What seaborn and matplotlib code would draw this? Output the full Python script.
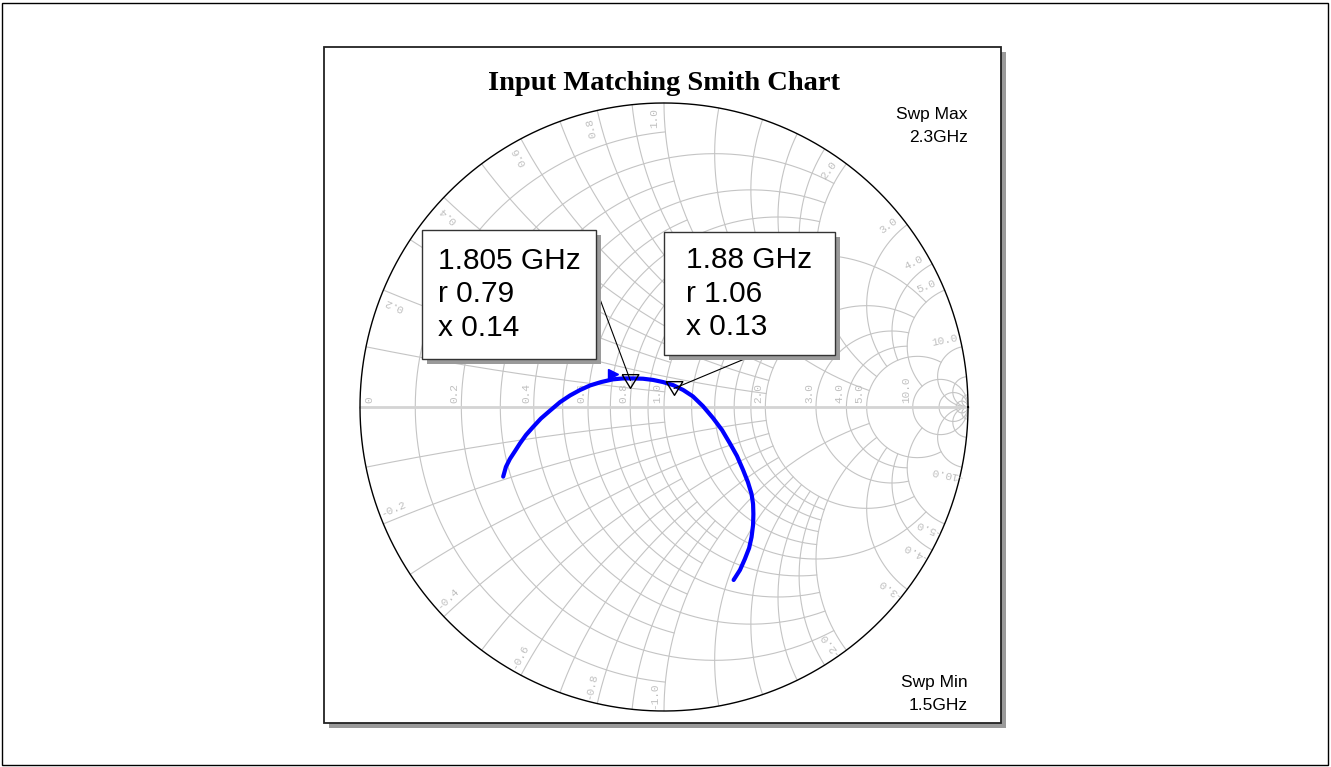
import numpy as np
import pandas as pd
import seaborn as sns
import matplotlib
matplotlib.use("Agg")
import matplotlib.pyplot as plt
from matplotlib.patches import Rectangle

# Trace (reflection coefficient, from the lower-left start point)
gamma_re = [-0.529, -0.520, -0.507, -0.490, -0.474, -0.454, -0.431, -0.405, -0.375, -0.342,
            -0.309, -0.276, -0.243, -0.207, -0.168, -0.135, -0.102, -0.069, -0.036, -0.003,
            0.030, 0.063, 0.095, 0.128, 0.161, 0.191, 0.217, 0.240, 0.260, 0.276,
            0.288, 0.293, 0.294, 0.293, 0.288, 0.280, 0.266, 0.250, 0.229]
gamma_im = [-0.229, -0.197, -0.171, -0.145, -0.120, -0.092, -0.066, -0.038, -0.012, 0.016,
            0.038, 0.056, 0.071, 0.082, 0.091, 0.094, 0.094, 0.093, 0.089, 0.082,
            0.072, 0.056, 0.035, 0.003, -0.036, -0.076, -0.120, -0.161, -0.207, -0.247,
            -0.286, -0.319, -0.352, -0.388, -0.428, -0.464, -0.500, -0.536, -0.569]

# Markers (normalised impedance)
marker_freq = ["1.805 GHz", "1.88 GHz"]
marker_r = [0.79, 1.06]
marker_x = [0.14, 0.13]

chart_title = "Input Matching Smith Chart"
swp_max = "2.3GHz"
swp_min = "1.5GHz"

# Smith grid: (values, limit of the other coordinate)
grid_r = [([0.1, 0.3, 0.5, 0.7, 0.9], 1.0),
          ([0.2, 0.4, 0.6, 0.8, 1.2, 1.4, 1.6, 1.8], 2.0),
          ([1.0, 2.0, 3.0, 4.0], 5.0),
          ([5.0], 10.0),
          ([10.0, 20.0, 50.0], np.inf)]
grid_x = [([0.1, 0.3, 0.5, 0.7, 0.9], 1.0),
          ([0.2, 0.4, 0.6, 0.8, 1.2, 1.4, 1.6, 1.8], 2.0),
          ([1.0, 2.0, 3.0, 4.0], 5.0),
          ([5.0], 10.0),
          ([10.0, 20.0, 50.0], np.inf)]
r_labels = [0, 0.2, 0.4, 0.6, 0.8, 1.0, 2.0, 3.0, 4.0, 5.0, 10.0]
x_labels = [0.2, 0.4, 0.6, 0.8, 1.0, 2.0, 3.0, 4.0, 5.0, 10.0]

sns.set_style("white")
plt.rcParams["font.family"] = ["Liberation Sans", "DejaVu Sans"]
plt.rcParams["text.color"] = "black"

W, H = 1331, 767
CX, CY, RAD = 664, 407, 304
fig = plt.figure(figsize=(W / 100, H / 100), dpi=100)
ax = fig.add_axes([0, 0, 1, 1])
ax.set_xlim(-CX / RAD, (W - CX) / RAD)
ax.set_ylim((CY - H) / RAD, CY / RAD)
ax.axis("off")


def px(x, y):
    return (x - CX) / RAD, (CY - y) / RAD


def z2g(z):
    return (z - 1) / (z + 1)


GRID = "#c4c4c4"
SHADOW = "#9a9a9a"

# outer frame and panel with shadow
fig.patches.append(Rectangle((2 / W, 2 / H), 1 - 5 / W, 1 - 5 / H, transform=fig.transFigure,
                             fill=False, ec="black", lw=1))
x0, y0 = px(324, 723)
x1, y1 = px(1001, 47)
ax.add_patch(Rectangle((x0 + 5 / RAD, y0 - 5 / RAD), x1 - x0, y1 - y0, fc=SHADOW, ec="none", zorder=0))
ax.add_patch(Rectangle((x0, y0), x1 - x0, y1 - y0, fc="white", ec="#222222", lw=1.3, zorder=1))

# grid: resistance circles
for vals, lim in grid_r:
    for r in vals:
        t = np.linspace(-np.arctan(lim), np.arctan(lim), 400)
        g = z2g(r + 1j * np.tan(t))
        ax.plot(g.real, g.imag, color=GRID, lw=0.8, zorder=2)
# grid: reactance arcs
for vals, lim in grid_x:
    for x in vals:
        t = np.linspace(0, np.arctan(lim), 400)
        for s in (1, -1):
            g = z2g(np.tan(t) + 1j * s * x)
            ax.plot(g.real, g.imag, color=GRID, lw=0.8, zorder=2)
ax.plot([-1, 1], [0, 0], color="#d4d4d4", lw=2, zorder=2)
th = np.linspace(0, 2 * np.pi, 720)
ax.plot(np.cos(th), np.sin(th), color="black", lw=1, zorder=3)

# grid labels
lab = dict(color="#c0c0c0", fontsize=8, family="Liberation Mono", zorder=3)
for r in r_labels:
    gx = z2g(r).real if r > 0 else -1 + 16 / RAD
    ax.text(gx - 2 / RAD, 4 / RAD, "0" if r == 0 else f"{r:.1f}", rotation=90,
            rotation_mode="anchor", ha="left", va="bottom", **lab)
for x in x_labels:
    for s in (1, -1):
        ang = np.degrees(np.angle(z2g(1j * s * x)))
        a = np.radians(ang + 2 * s)
        txt = f"{x:.1f}" if s > 0 else f"-{x:.1f}"
        rot = ang if s > 0 else ang + 180
        ax.text(0.95 * np.cos(a), 0.95 * np.sin(a), txt, rotation=rot, rotation_mode="anchor",
                ha="center", va="center", **lab)

# trace
trace = pd.DataFrame({"re": gamma_re, "im": gamma_im})
sns.lineplot(data=trace, x="re", y="im", sort=False, estimator=None, color="#0000ff",
             lw=3, ax=ax, zorder=4, solid_joinstyle="round")
ax.plot(gamma_re[14], gamma_im[14] + 5 / RAD, marker=">", color="#0000ff", ms=7, zorder=4)

# markers
mk = z2g(np.array(marker_r) + 1j * np.array(marker_x))
tri = [(-1, 0.82), (1, 0.82), (0, -0.82), (-1, 0.82)]
ax.plot(mk.real, mk.imag, ls="none", marker=tri, ms=12, mfc="none", mec="black", mew=1, zorder=5)

# marker boxes: (left, right, top, bottom) offsets from the marker in pixels, leader start
box_off = [(-208, -34, 151, 22), (-10, 161, 156, 33)]
lead_start = [(-34, 91), (79, 33)]
for i in range(len(marker_freq)):
    mx, my = mk[i].real, mk[i].imag
    l, rr, t, b = [v / RAD for v in box_off[i]]
    ax.plot([mx + lead_start[i][0] / RAD, mx], [my + lead_start[i][1] / RAD, my], color="black",
            lw=0.8, zorder=6)
    ax.add_patch(Rectangle((mx + l + 5 / RAD, my + b - 5 / RAD), rr - l, t - b, fc=SHADOW, ec="none", zorder=7))
    ax.add_patch(Rectangle((mx + l, my + b), rr - l, t - b, fc="white", ec="#333333", lw=1, zorder=8))
    txt = f"{marker_freq[i]}\nr {marker_r[i]:.2f}\nx {marker_x[i]:.2f}"
    ax.text(mx + (l + rr) / 2, my + (t + b) / 2, txt, ha="center", va="center", multialignment="left",
            fontsize=21.5, linespacing=1.25, zorder=9)

# texts
ax.text(*px(664, 83), chart_title, ha="center", va="center", fontsize=20.5, fontweight="bold",
        family="Liberation Serif")
ax.text(*px(968, 114), "Swp Max", ha="right", va="center", fontsize=12.5)
ax.text(*px(968, 138), swp_max, ha="right", va="center", fontsize=12.5)
ax.text(*px(968, 682), "Swp Min", ha="right", va="center", fontsize=12.5)
ax.text(*px(968, 705), swp_min, ha="right", va="center", fontsize=12.5)

fig.savefig("out.png", dpi=100)
